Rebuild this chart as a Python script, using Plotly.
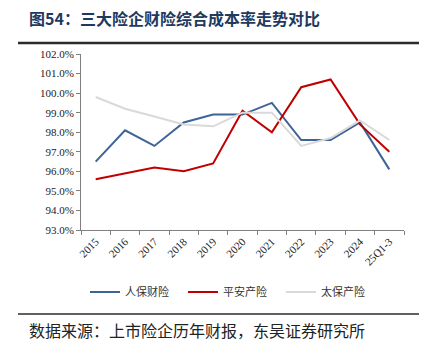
import plotly.graph_objects as go

categories = ["2015", "2016", "2017", "2018", "2019", "2020", "2021", "2022", "2023", "2024", "25Q1-3"]
picc = [96.5, 98.1, 97.3, 98.5, 98.9, 98.9, 99.5, 97.6, 97.6, 98.5, 96.1]
pingan = [95.6, 95.9, 96.2, 96.0, 96.4, 99.1, 98.0, 100.3, 100.7, 98.4, 97.0]
cpic = [99.8, 99.2, 98.8, 98.4, 98.3, 99.0, 99.0, 97.3, 97.7, 98.6, 97.6]
series_names = ["人保财险", "平安产险", "太保产险"]
colors = ["#3E6497", "#C00000", "#D9D9D9"]
yticks = [93 + i for i in range(10)]

W, H = 431, 354
L, R, T, B = 81, 27, 54, 124
pw, ph = W - L - R, H - T - B

def px(x):
    return (x - L) / pw

def py(y):
    return (H - B - y) / ph

fig = go.Figure()
for name, vals, c in zip(series_names, [picc, pingan, cpic], colors):
    fig.add_trace(go.Scatter(x=categories, y=vals, name=name, mode="lines",
                             line=dict(color=c, width=2)))

serif = "Liberation Serif, Times New Roman, serif"
cjk = "Noto Sans CJK SC, sans-serif"

fig.update_layout(
    width=W, height=H,
    margin=dict(l=L, r=R, t=T, b=B),
    paper_bgcolor="white", plot_bgcolor="white",
    showlegend=True,
    legend=dict(orientation="h", x=px(85), y=py(292), xanchor="left", yanchor="middle",
                font=dict(family=cjk, size=11, color="#333333"),
                itemwidth=30, tracegroupgap=0, entrywidth=53, entrywidthmode="pixels",
                bgcolor="rgba(0,0,0,0)"),
    xaxis=dict(type="category", showline=True, linecolor="#808080", linewidth=1,
               ticks="outside", tickson="boundaries", ticklen=4, tickcolor="#808080",
               tickangle=-45, tickfont=dict(family=serif, size=11, color="#222222"),
               showgrid=False, range=[-0.5, 10.5]),
    yaxis=dict(range=[93, 102], tickvals=yticks, ticktext=[f"{v:.1f}%" for v in yticks],
               showline=True, linecolor="#808080", linewidth=1, ticks="outside",
               ticklen=4, tickcolor="#808080", showgrid=False, zeroline=False,
               tickfont=dict(family=serif, size=11, color="#222222")),
)

fig.add_annotation(text="<b>图54：三大险企财险综合成本率走势对比</b>", xref="paper", yref="paper",
                   x=px(27), y=py(18), xanchor="left", yanchor="middle", showarrow=False,
                   font=dict(family=cjk, size=16, color="#1F3A5F"))
fig.add_annotation(text="数据来源：上市险企历年财报，东吴证券研究所", xref="paper", yref="paper",
                   x=px(27), y=py(330), xanchor="left", yanchor="middle", showarrow=False,
                   font=dict(family=cjk, size=16, color="#222222"))
fig.add_shape(type="line", xref="paper", yref="paper", x0=px(18), x1=px(419), y0=py(43), y1=py(43),
              line=dict(color="#2B2B2B", width=2.5))
fig.add_shape(type="line", xref="paper", yref="paper", x0=px(18), x1=px(419), y0=py(314), y1=py(314),
              line=dict(color="#2B2B2B", width=1.5))

fig.write_html("out.html")
